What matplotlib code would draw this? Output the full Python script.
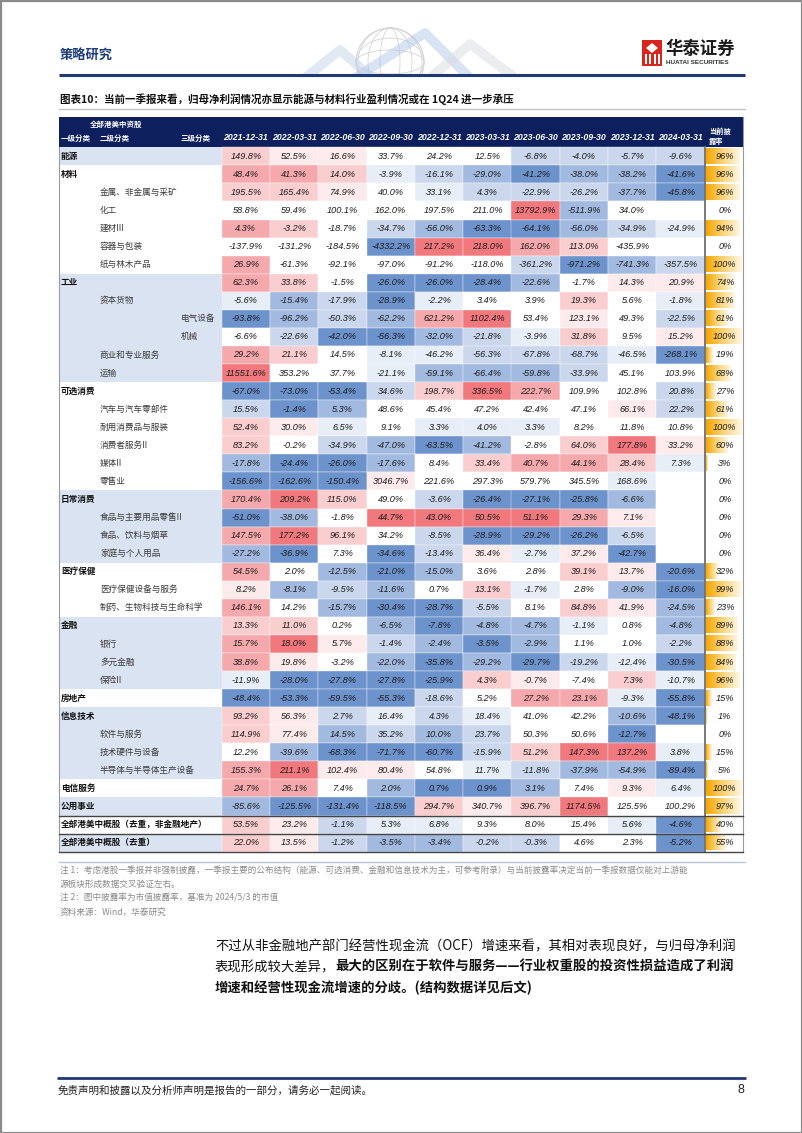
# 港美中概股 归母净利润增速热力表（华泰研究 图表10）
import numpy as np
import matplotlib.pyplot as plt
import matplotlib.colors as mcolors
from matplotlib.patches import Rectangle, Circle, Ellipse, Polygon

plt.rcParams['font.family'] = ['Liberation Sans', 'Noto Sans CJK SC', 'DejaVu Sans']
CJK = ['Noto Sans CJK SC', 'DejaVu Sans']
NUM = ['Liberation Sans', 'DejaVu Sans']

# ── data ─────────────────────────────────────────────────────────
dates = ['2021-12-31', '2022-03-31', '2022-06-30', '2022-09-30', '2022-12-31',
         '2023-03-31', '2023-06-30', '2023-09-30', '2023-12-31', '2024-03-31']

labels = ['能源', '材料', '金属、非金属与采矿', '化工', '建材III', '容器与包装', '纸与林木产品',
          '工业', '资本货物', '电气设备', '机械', '商业和专业服务', '运输',
          '可选消费', '汽车与汽车零部件', '耐用消费品与服装', '消费者服务II', '媒体II', '零售业',
          '日常消费', '食品与主要用品零售II', '食品、饮料与烟草', '家庭与个人用品',
          '医疗保健', '医疗保健设备与服务', '制药、生物科技与生命科学',
          '金融', '银行', '多元金融', '保险II', '房地产',
          '信息技术', '软件与服务', '技术硬件与设备', '半导体与半导体生产设备',
          '电信服务', '公用事业', '全部港美中概股（去重，非金融地产）', '全部港美中概股（去重）']

# 1 = 一级分类, 2 = 二级分类, 3 = 三级分类
levels = [1, 1, 2, 2, 2, 2, 2, 1, 2, 3, 3, 2, 2, 1, 2, 2, 2, 2, 2,
          1, 2, 2, 2, 1, 2, 2, 1, 2, 2, 2, 1, 1, 2, 2, 2, 1, 1, 1, 1]

# 归母净利润同比 (%)
growth = [
    [149.8, 52.5, 16.6, 33.7, 24.2, 12.5, -6.8, -4.0, -5.7, -9.6],
    [48.4, 41.3, 14.0, -3.9, -16.1, -29.0, -41.2, -38.0, -38.2, -41.6],
    [195.5, 165.4, 74.9, 40.0, 33.1, 4.3, -22.9, -26.2, -37.7, -45.8],
    [58.8, 59.4, 100.1, 162.0, 197.5, 211.0, 13792.9, -511.9, 34.0, None],
    [4.3, -3.2, -18.7, -34.7, -56.0, -63.3, -64.1, -56.0, -34.9, -24.9],
    [-137.9, -131.2, -184.5, -4332.2, 217.2, 218.0, 162.0, 113.0, -435.9, None],
    [26.9, -61.3, -92.1, -97.0, -91.2, -118.0, -361.2, -971.2, -741.3, -357.5],
    [62.3, 33.8, -1.5, -26.0, -26.0, -28.4, -22.6, -1.7, 14.3, 20.9],
    [-5.6, -15.4, -17.9, -28.9, -2.2, 3.4, 3.9, 19.3, 5.6, -1.8],
    [-93.8, -96.2, -50.3, -62.2, 621.2, 1102.4, 53.4, 123.1, 49.3, -22.5],
    [-6.6, -22.6, -42.0, -56.3, -32.0, -21.8, -3.9, 31.8, 9.5, 15.2],
    [29.2, 21.1, 14.5, -8.1, -46.2, -56.3, -67.8, -68.7, -46.5, -268.1],
    [11551.6, 353.2, 37.7, -21.1, -59.1, -66.4, -59.8, -33.9, 45.1, 103.9],
    [-67.0, -73.0, -53.4, 34.6, 198.7, 336.5, 222.7, 109.9, 102.8, 20.8],
    [15.5, -1.4, 5.3, 48.6, 45.4, 47.2, 42.4, 47.1, 66.1, 22.2],
    [52.4, 30.0, 6.5, 9.1, 3.3, 4.0, 3.3, 8.2, 11.8, 10.8],
    [83.2, -0.2, -34.9, -47.0, -63.5, -41.2, -2.8, 64.0, 177.8, 33.2],
    [-17.8, -24.4, -26.0, -17.6, 8.4, 33.4, 40.7, 44.1, 28.4, 7.3],
    [-156.6, -162.6, -150.4, 3046.7, 221.6, 297.3, 579.7, 345.5, 168.6, None],
    [170.4, 209.2, 115.0, 49.0, -3.6, -26.4, -27.1, -25.8, -6.6, None],
    [-51.0, -38.0, -1.8, 44.7, 43.0, 50.5, 51.1, 29.3, 7.1, None],
    [147.5, 177.2, 96.1, 34.2, -8.5, -28.9, -29.2, -26.2, -6.5, None],
    [-27.2, -36.9, 7.3, -34.6, -13.4, 36.4, -2.7, 37.2, -42.7, None],
    [54.5, 2.0, -12.5, -21.0, -15.0, 3.6, 2.8, 39.1, 13.7, -20.6],
    [8.2, -8.1, -9.5, -11.6, 0.7, 13.1, -1.7, 2.8, -9.0, -16.0],
    [146.1, 14.2, -15.7, -30.4, -28.7, -5.5, 8.1, 84.8, 41.9, -24.5],
    [13.3, 11.0, 0.2, -6.5, -7.8, -4.8, -4.7, -1.1, 0.8, -4.8],
    [15.7, 18.0, 5.7, -1.4, -2.4, -3.5, -2.9, 1.1, 1.0, -2.2],
    [38.8, 19.8, -3.2, -22.0, -35.8, -29.2, -29.7, -19.2, -12.4, -30.5],
    [-11.9, -28.0, -27.8, -27.8, -25.9, 4.3, -0.7, -7.4, 7.3, -10.7],
    [-48.4, -53.3, -59.5, -55.3, -18.6, 5.2, 27.2, 23.1, -9.3, -55.8],
    [93.2, 56.3, 2.7, 16.4, 4.3, 18.4, 41.0, 42.2, -10.6, -48.1],
    [114.9, 77.4, 14.5, 35.2, 10.0, 23.7, 50.3, 50.6, -12.7, None],
    [12.2, -39.6, -68.3, -71.7, -60.7, -15.9, 51.2, 147.3, 137.2, 3.8],
    [155.3, 211.1, 102.4, 80.4, 54.8, 11.7, -11.8, -37.9, -54.9, -89.4],
    [24.7, 26.1, 7.4, 2.0, 0.7, 0.9, 3.1, 7.4, 9.3, 6.4],
    [-85.6, -125.5, -131.4, -118.5, 294.7, 340.7, 396.7, 1174.5, 125.5, 100.2],
    [53.5, 23.2, -1.1, 5.3, 6.8, 9.3, 8.0, 15.4, 5.6, -4.6],
    [22.0, 13.5, -1.2, -3.5, -3.4, -0.2, -0.3, 4.6, 2.3, -5.2],
]

# colour class of each cell (+ red, - blue, 0 white)
heat_level = [
    [2, 1, 1, 0, 0, 0, -2, -2, -2, -2],
    [3, 3, 2, -1, -2, -3, -4, -3, -3, -4],
    [2, 2, 1, 0, -1, -2, -2, -2, -3, -4],
    [0, 0, 0, 0, 0, 0, 4, -3, 0, 0],
    [3, 2, 0, -2, -3, -4, -4, -3, -2, -1],
    [0, 0, 0, -4, 4, 4, 3, 2, 0, 0],
    [3, 0, 0, 0, 0, 0, -2, -4, -3, -2],
    [3, 2, 0, -4, -4, -4, -3, 0, 1, 1],
    [-1, -3, -2, -4, -1, 0, 0, 2, 0, -1],
    [-4, -3, -2, -3, 3, 4, 0, 1, 0, -2],
    [0, -2, -4, -4, -3, -2, -1, 2, 0, 1],
    [3, 2, 0, -1, -1, -2, -2, -2, -1, -4],
    [4, 0, 0, -1, -3, -3, -3, -2, 0, 0],
    [-4, -4, -4, -2, 2, 4, 3, 0, 0, -2],
    [-2, -4, -3, 0, 0, 0, 0, 0, 1, -2],
    [2, 1, -1, 0, -1, -1, -1, 0, 0, 0],
    [2, 0, -2, -3, -4, -3, 0, 2, 4, 1],
    [-3, -4, -4, -3, 0, 2, 3, 3, 2, -1],
    [-4, -4, -4, 1, 0, 0, 0, 0, -1, 0],
    [3, 4, 2, 0, -2, -4, -4, -4, -3, 0],
    [-4, -3, 0, 4, 4, 4, 4, 3, 1, 0],
    [3, 4, 2, 0, -2, -4, -4, -4, -2, 0],
    [-3, -4, 0, -4, -2, 1, -1, 1, -4, 0],
    [3, 0, -3, -4, -3, 0, 0, 2, 1, -4],
    [1, -3, -2, -3, 0, 2, -1, 0, -3, -4],
    [3, 0, -3, -4, -4, -2, 0, 2, 1, -3],
    [2, 2, 0, -3, -4, -3, -3, -1, 0, -3],
    [3, 4, 1, -2, -3, -4, -3, 0, 0, -2],
    [3, 1, 0, -3, -4, -3, -4, -2, -1, -4],
    [-1, -4, -4, -4, -4, 2, 1, 0, 2, -1],
    [-4, -4, -4, -4, -2, 0, 3, 3, -1, -4],
    [2, 1, -2, -1, -2, -1, 0, 0, -3, -4],
    [2, 1, -3, -2, -3, -2, 0, 0, -4, 0],
    [0, -3, -4, -4, -4, -2, 2, 4, 4, -1],
    [3, 4, 1, 1, 0, -1, -2, -3, -3, -4],
    [3, 3, 0, -3, -4, -4, -3, 0, 1, -1],
    [-3, -4, -4, -4, 2, 1, 2, 4, 0, 0],
    [2, 1, -2, -1, -1, 0, 0, 0, -1, -4],
    [2, 1, -2, -3, -3, -2, -2, 0, 0, -4],
]

# 当前披露率 (%)
disclosure = [96, 96, 96, 0, 94, 0, 100, 74, 81, 61, 100, 19, 68, 27, 61, 100, 60, 3, 0,
              0, 0, 0, 0, 32, 99, 23, 89, 88, 84, 96, 15, 1, 0, 15, 5, 100, 97, 40, 55]

# ── layout (pixel coordinates) ───────────────────────────────────
W, H = 802, 1133
X0, XD, CW = 59, 221.7, 48.3
XP = XD + len(dates) * CW
XR = 743
Y_HEAD, Y0, RH = 117, 147.3, 18.06
NAVY = '#0d1f5c'
SHADE = '#dae3f2'
RED = np.array(mcolors.to_rgb('#ee5a5f'))
BLUE = np.array(mcolors.to_rgb('#4d7bc2'))
FRAC = [0, 0.13, 0.3, 0.52, 0.82]


def heat_color(lv):
    if lv == 0:
        return (1, 1, 1)
    end = RED if lv > 0 else BLUE
    f = FRAC[abs(lv)]
    return tuple((1 - f) + f * end)


fig = plt.figure(figsize=(W / 100, H / 100), dpi=100)
ax = fig.add_axes([0, 0, 1, 1])
ax.axis('off')
fig.patch.set_facecolor('white')

# page frame
ax.add_patch(Rectangle((0.5, 0.5), W - 1, H - 1, fill=False, ec='#8a8a8a', lw=1.6, zorder=10))

# ── page header ──────────────────────────────────────────────────
RULE_Y = 75
clip = Rectangle((280, 15), 260, RULE_Y - 16, transform=ax.transData)
deco = []
deco.append(ax.add_patch(Circle((390, 62), 34, fill=False, ec='#cccccc', lw=0.8, alpha=0.8)))
for rx in (10, 22, 32):
    deco.append(ax.add_patch(Ellipse((390, 62), rx * 2, 68, fill=False, ec='#d4d4d4', lw=0.6)))
for ry in (12, 24):
    deco.append(ax.add_patch(Ellipse((390, 62), 68, ry * 2, fill=False, ec='#d4d4d4', lw=0.6)))
for xs, ys, c in [((305, 340, 372), (78, 50, 78), '#c3d4ea'),
                  ((355, 425, 470), (78, 33, 78), '#b3c9e8'),
                  ((430, 470, 515), (78, 44, 78), '#dadde2')]:
    deco += ax.plot(xs, ys, color=c, lw=7, alpha=0.5, solid_capstyle='butt')
for d in deco:
    d.set_clip_path(clip)

ax.text(60, 55, '策略研究', family=CJK, fontsize=9.5, fontweight='bold', color='#1d3c7d',
        va='center', ha='left')
ax.add_patch(Rectangle((642, 40), 20, 26, fc='#d9261c', ec='none'))
ax.add_patch(Polygon([(646, 48), (652, 43), (658, 48), (652, 53)], closed=True,
                     fc='white', ec='none'))
for xx in (645.5, 649.5, 654.5, 658.5):
    ax.add_patch(Rectangle((xx - 1, 54), 2, 10, fc='white', ec='none'))
ax.text(665, 49, '华泰证券', family=CJK, fontsize=12.5, fontweight='bold', color='#1a1a1a',
        va='center', ha='left')
ax.text(665.5, 63, 'HUATAI SECURITIES', family=NUM, fontsize=4.6, fontweight='bold',
        color='#333333', va='center', ha='left')
ax.plot([59, 745], [RULE_Y, RULE_Y], color='#1f3a73', lw=2.2, solid_capstyle='butt')

ax.text(60, 99, '图表10：当前一季报来看，归母净利润情况亦显示能源与材料行业盈利情况或在 1Q24 进一步承压',
        family=CJK, fontsize=7.6, fontweight='bold', color='#111111', va='center', ha='left')
ax.plot([59, 745], [109, 109], color='#c4c4c4', lw=1.0)

# ── table header ─────────────────────────────────────────────────
ax.add_patch(Rectangle((X0, Y_HEAD), XR - X0, Y0 - Y_HEAD, fc=NAVY, ec='none'))
ax.text(90, 124, '全部港美中资股', family=CJK, fontsize=5.4, fontweight='bold', color='white',
        va='center', ha='left')
for txt, x in [('一级分类', 61), ('二级分类', 100), ('三级分类', 181)]:
    ax.text(x, 138, txt, family=CJK, fontsize=5.4, fontweight='bold', color='white',
            va='center', ha='left')
for j, d in enumerate(dates):
    ax.text(XD + (j + 0.5) * CW, 138, d, family=NUM, fontsize=6.3, fontweight='bold',
            style='italic', color='white', va='center', ha='center')
ax.text(709, 131, '当前披', family=CJK, fontsize=5.2, fontweight='bold', color='white',
        va='center', ha='left')
ax.text(709, 141, '露率', family=CJK, fontsize=5.2, fontweight='bold', color='white',
        va='center', ha='left')

# ── table body ───────────────────────────────────────────────────
label_x = {1: 61, 2: 100, 3: 181}
bar_cmap = mcolors.LinearSegmentedColormap.from_list('bar', ['#f5a500', '#fbd57a', '#fff6e4'])
grad = np.linspace(0, 1, 128)[None, :]

group = -1
for i, name in enumerate(labels):
    y = Y0 + i * RH
    yc = y + RH / 2
    if levels[i] == 1:
        group += 1
    bg = SHADE if group % 2 == 0 else 'white'
    ax.add_patch(Rectangle((X0, y), XD - X0, RH, fc=bg, ec='none', zorder=1))
    lv = levels[i]
    ax.text(label_x[lv], yc, name, family=CJK, fontsize=6.2,
            fontweight='bold' if lv == 1 else 'normal',
            color='#111111' if lv == 1 else '#3a3a3a', va='center', ha='left', zorder=3)

    for j, v in enumerate(growth[i]):
        x = XD + j * CW
        ax.add_patch(Rectangle((x, y), CW, RH, fc=heat_color(heat_level[i][j]),
                               ec='white', lw=0.25, zorder=1))
        if v is not None:
            ax.text(x + CW / 2, yc, f'{v:.1f}%', family=NUM, fontsize=6.6, style='italic',
                    color='#1c1c1c', va='center', ha='center', zorder=3)

    # disclosure data bar
    p = disclosure[i]
    if p > 0:
        bw = (XR - XP - 3) * p / 100
        ax.imshow(grad, cmap=bar_cmap, aspect='auto', interpolation='bilinear',
                  extent=(XP + 1.5, XP + 1.5 + bw, y + RH - 1.5, y + 1.5), zorder=2)
    ax.text((XP + XR) / 2 + 1, yc, f'{p}%', family=NUM, fontsize=6.6, style='italic',
            color='#1c1c1c', va='center', ha='center', zorder=3)

Y_END = Y0 + len(labels) * RH
ax.plot([X0, X0], [Y0, Y_END], color='#9a9a9a', lw=0.8, zorder=4)
ax.plot([XP, XP], [Y0, Y_END], color='#6e6e6e', lw=1.3, zorder=4)
ax.plot([XR, XR], [Y_HEAD, Y_END], color='#9a9a9a', lw=0.8, zorder=4)
for k in (len(labels) - 2, len(labels) - 1, len(labels)):
    ax.plot([X0, XR], [Y0 + k * RH] * 2, color='#444444', lw=1.0, zorder=4)

# fix the pixel frame before measuring any text
ax.set_xlim(0, W)
ax.set_ylim(H, 0)

# ── notes ────────────────────────────────────────────────────────
ax.plot([59, 745], [862, 862], color='#b8c4d8', lw=1.0)
notes = ['注 1：考虑港股一季报并非强制披露，一季报主要的公布结构（能源、可选消费、金融和信息技术为主，可参考附录）与当前披露率决定当前一季报数据仅能对上游能',
         '源板块形成数据交叉验证左右。',
         '注 2：图中披露率为市值披露率，基准为 2024/5/3 的市值',
         '资料来源：Wind，华泰研究']
for k, t in enumerate(notes):
    ax.text(60, 870 + k * 14, t, family=CJK, fontsize=6.2, color='#8a8a8a',
            va='center', ha='left')

# ── body paragraph ───────────────────────────────────────────────
renderer = fig.canvas.get_renderer()
BX, FS = 215, 9.6
ax.text(BX, 946, '不过从非金融地产部门经营性现金流（OCF）增速来看，其相对表现良好，与归母净利润',
        family=CJK, fontsize=FS, color='#111111', va='center', ha='left')
t = ax.text(BX, 967, '表现形成较大差异，', family=CJK, fontsize=FS, color='#111111',
            va='center', ha='left')
bb = t.get_window_extent(renderer)
x1 = ax.transData.inverted().transform((bb.x1, bb.y0))[0]
ax.text(x1, 967, '最大的区别在于软件与服务——行业权重股的投资性损益造成了利润',
        family=CJK, fontsize=FS, fontweight='bold', color='#111111', va='center', ha='left')
ax.text(BX, 988, '增速和经营性现金流增速的分歧。(结构数据详见后文)',
        family=CJK, fontsize=FS, fontweight='bold', color='#111111', va='center', ha='left')

# ── footer ───────────────────────────────────────────────────────
ax.plot([57, 746], [1078, 1078], color='#1f3a73', lw=2.0, solid_capstyle='butt')
ax.text(58, 1090, '免责声明和披露以及分析师声明是报告的一部分，请务必一起阅读。', family=CJK,
        fontsize=7.6, style='italic', color='#222222', va='center', ha='left')
ax.text(744, 1090, '8', family=NUM, fontsize=9, color='#222222', va='center', ha='right')

ax.set_xlim(0, W)
ax.set_ylim(H, 0)
fig.savefig('out.png', dpi=100)
plt.close()
